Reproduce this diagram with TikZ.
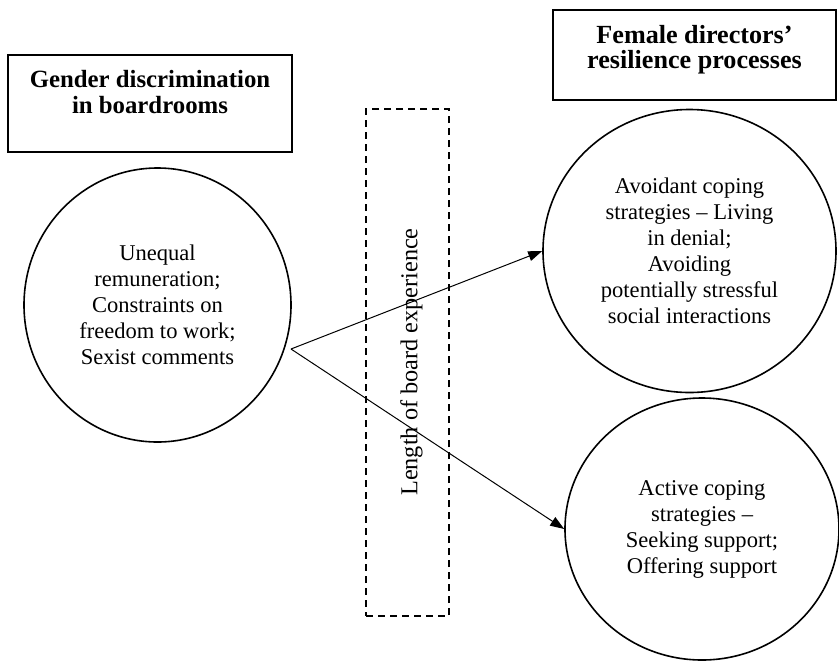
\documentclass[tikz,border=0pt]{standalone}
\usepackage{fontspec}
\setmainfont{Liberation Serif}
\usetikzlibrary{shapes.geometric,arrows.meta,positioning}

\tikzset{every picture/.style={line width=0.75pt}}
\tikzset{
  circ/.style={draw, ellipse, line width=1.2pt, inner sep=0pt, align=center,
    font=\fontsize{16.9}{19.5}\selectfont},
  headbox/.style={draw, rectangle, line width=1.5pt, inner sep=0pt},
  headtext/.style={align=center, inner sep=0pt,
    font=\bfseries\fontsize{18.6}{19}\selectfont},
  expbox/.style={draw, rectangle, line width=1.5pt, inner sep=0pt,
    dash pattern={on 5.25pt off 3.75pt}},
  link/.style={-{Triangle[length=10.5pt,width=7.5pt]}}
}

\begin{document}
\begin{tikzpicture}[x=0.75pt,y=0.75pt,yscale=-1,xscale=1]
        \useasboundingbox (0,0) rectangle (839,662); %set diagram left start at 0, and has height of 662
        
        %Shape: Rectangle [discrimination heading]
        \node[headbox, minimum width=213pt, minimum height=72.75pt] (discrbox) at (150,103.5) {};
        \node[headtext] (discrtitle) at (150,92) {Gender discrimination\\in boardrooms};
        %Shape: Rectangle [resilience heading]
        \node[headbox, minimum width=212.25pt, minimum height=67.5pt] (resilbox) at (694.5,55) {};
        \node[headtext, font=\bfseries\fontsize{19.6}{19}\selectfont] (resiltitle) at (694.5,50) {Female directors’\\resilience processes};
        
        %Shape: Ellipse [discrimination]
        \node[circ, minimum width=200.25pt, minimum height=205.5pt] (discr) at (157.5,305) {Unequal\\remuneration;\\Constraints on\\freedom to work;\\Sexist comments};
        %Shape: Ellipse [avoidant coping]
        \node[circ, minimum width=219.75pt, minimum height=212.25pt] (avoid) at (689.5,251) {Avoidant coping\\strategies – Living\\in denial;\\Avoiding\\potentially stressful\\social interactions};
        %Shape: Ellipse [active coping]
        \node[circ, minimum width=205.5pt, minimum height=196.5pt] (active) at (702,529) {Active coping\\strategies –\\Seeking support;\\Offering support};
        
        %Shape: Rectangle [board experience]
        \node[expbox, minimum width=62.25pt, minimum height=380.25pt] (expbox) at (407.5,362.5) {};
        \node[rotate=90, inner sep=0pt, font=\fontsize{18.2}{20}\selectfont] (explabel) at (411.5,362) {Length of board experience};
        
        %Straight Lines [arrows]
        \coordinate (split) at (291,349);
        \draw[link] (split) -- (avoid.west);
        \draw[link] (split) -- (active.west);
        
\end{tikzpicture}
\end{document}
